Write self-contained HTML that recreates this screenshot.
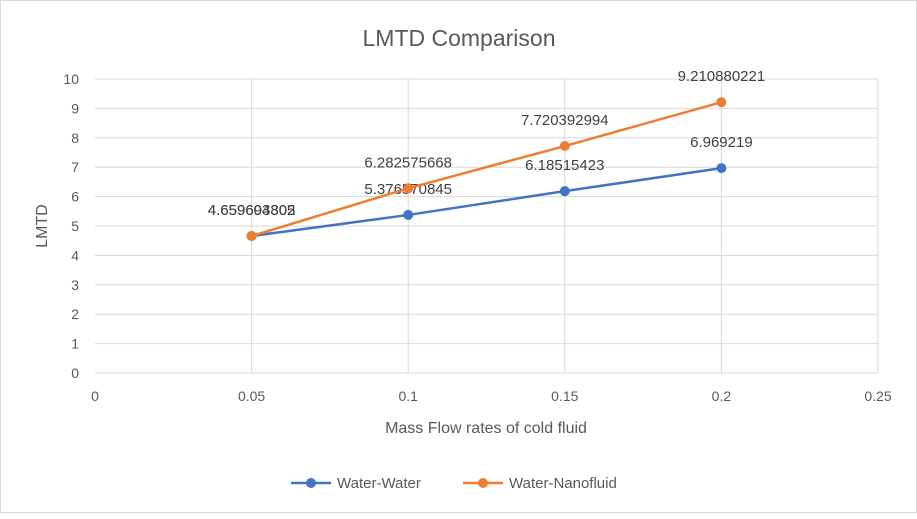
<!DOCTYPE html>
<html><head><meta charset="utf-8"><style>
body{margin:0;background:#fff;font-family:"Liberation Sans",sans-serif}
#c{position:absolute;left:0;top:0;width:917px;height:513px;border:1px solid #d9d9d9;box-sizing:border-box}
text{font-family:"Liberation Sans",sans-serif;fill:#595959}
</style></head><body>
<div id="c">
<svg id="s" width="917" height="513"></svg>
</div>
<script>
const categories=[0.05,0.1,0.15,0.2];
const waterWater=[4.659603802,5.376570845,6.18515423,6.969219];
const waterNano=[4.659694305,6.282575668,7.720392994,9.210880221];
const xTicks=["0","0.05","0.1","0.15","0.2","0.25"];
const xTickVals=[0,0.05,0.1,0.15,0.2,0.25];
const yTicks=[0,1,2,3,4,5,6,7,8,9,10];
const NS="http://www.w3.org/2000/svg";
const s=document.getElementById('s');
const X=v=>94+v/0.25*783, Y=v=>372-v*29.4;
function el(t,a,txt){const e=document.createElementNS(NS,t);for(const k in a)e.setAttribute(k,a[k]);if(txt!=null)e.textContent=txt;s.appendChild(e);return e;}
let t=el('text',{x:458,y:45,'font-size':23,'text-anchor':'middle'},'LMTD Comparison');


yTicks.forEach(v=>{
 const g=el('line',{x1:94,x2:877,y1:Y(v),y2:Y(v),stroke:'#d9d9d9','stroke-width':1});
 
 
 const l=el('text',{x:78,y:Y(v)+5,'font-size':14,'text-anchor':'end'},String(v));
 
 
});
xTickVals.forEach((v,i)=>{
 if(i>0){const g=el('line',{x1:X(v),x2:X(v),y1:Y(10),y2:Y(0),stroke:'#d9d9d9','stroke-width':1});
 
 }
 const l=el('text',{x:X(v),y:400,'font-size':14,'text-anchor':'middle'},xTicks[i]);
 
 
});
t=el('text',{x:485,y:432,'font-size':16,'text-anchor':'middle'},'Mass Flow rates of cold fluid');


t=el('text',{x:46,y:225,'font-size':16,'text-anchor':'middle',transform:'rotate(-90 46 225)'},'LMTD');


function series(vals,color,name){
 const p=el('polyline',{points:vals.map((v,i)=>X(categories[i])+','+Y(v)).join(' '),fill:'none',stroke:color,'stroke-width':2.5});
 
 
 vals.forEach((v,i)=>{
  const c=el('circle',{cx:X(categories[i]),cy:Y(v),r:5,fill:color});
  
  
  const l=el('text',{x:X(categories[i]),y:Y(v)-21,'font-size':15,'text-anchor':'middle',style:'fill:#404040'},String(v));
  
  
 });
}
series(waterWater,'#4472c4','water-water');
series(waterNano,'#ed7d31','water-nanofluid');
function legend(x,color,label,name){
 const l=el('line',{x1:x,x2:x+40,y1:482,y2:482,stroke:color,'stroke-width':2.5});
 
 
 const c=el('circle',{cx:x+20,cy:482,r:5,fill:color});
 
 
 const t=el('text',{x:x+46,y:487,'font-size':15},label);
 
 
}
legend(290,'#4472c4','Water-Water','water-water');
legend(462,'#ed7d31','Water-Nanofluid','water-nanofluid');
</script>
</body></html>
